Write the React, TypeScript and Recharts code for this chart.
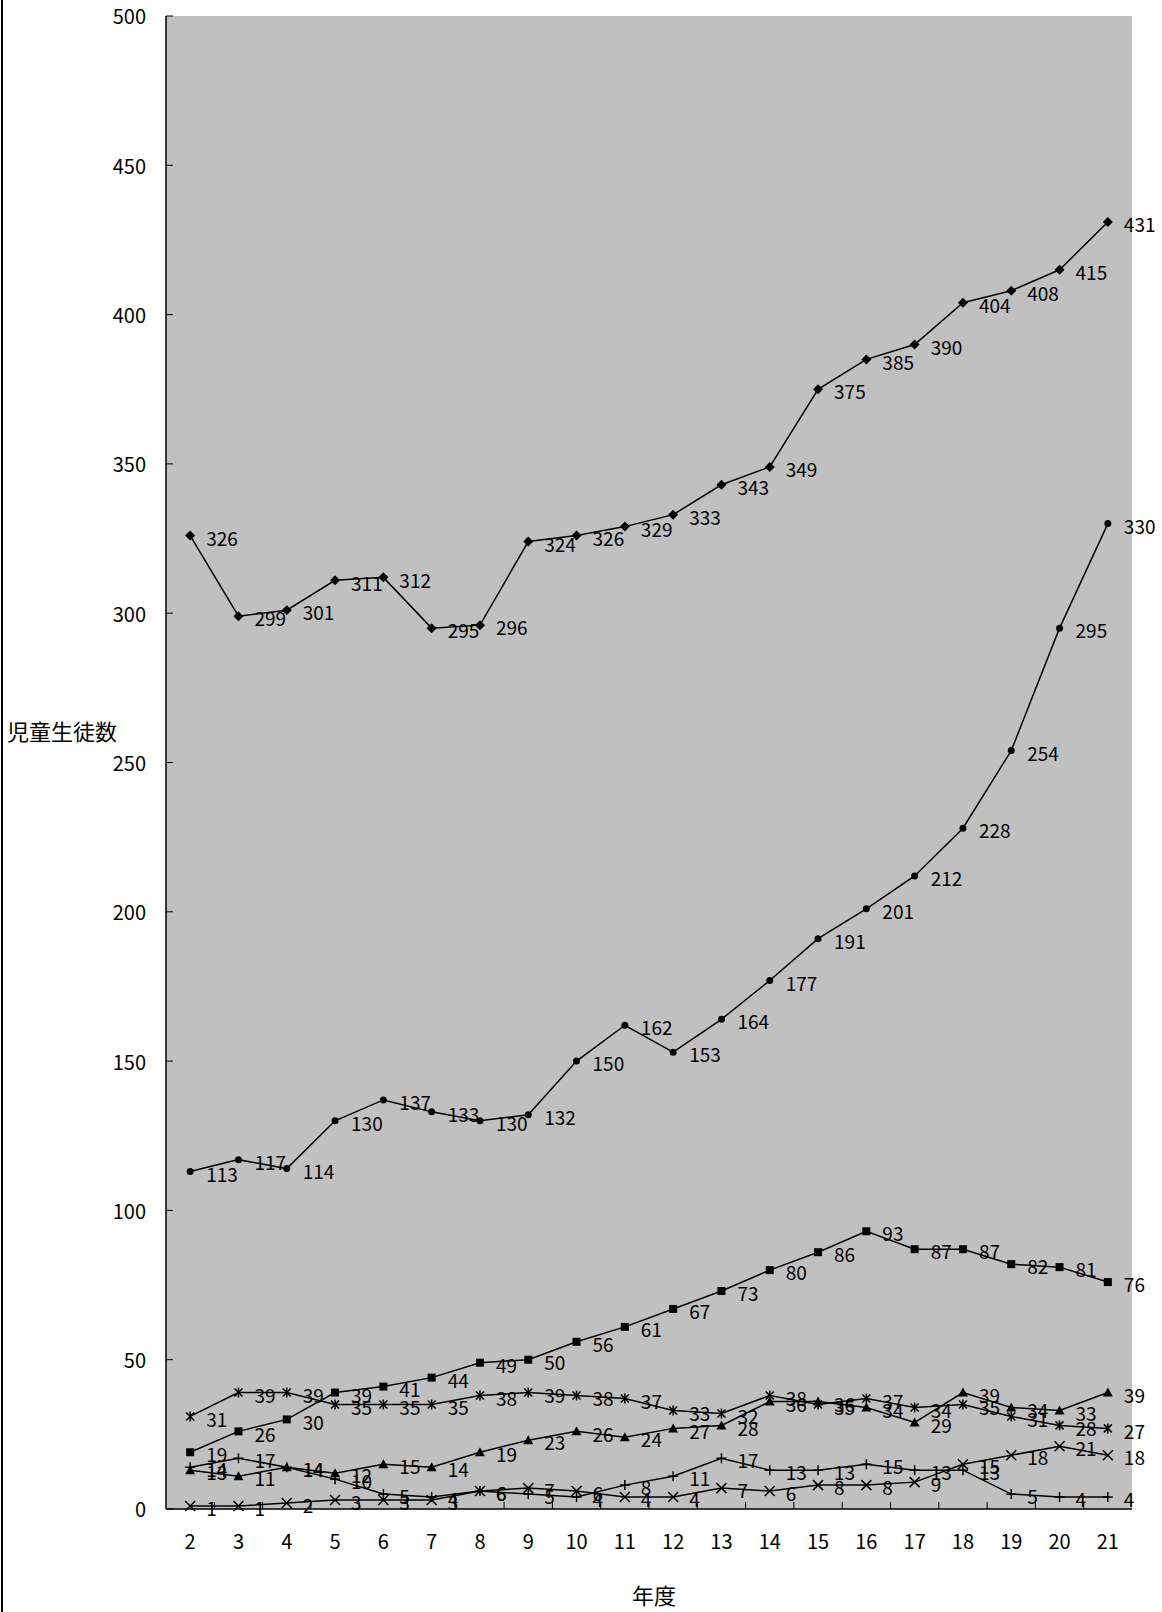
import { LineChart, Line, XAxis, YAxis, CartesianGrid, LabelList, Label } from 'recharts';

// ---- data ----
const years = ['2', '3', '4', '5', '6', '7', '8', '9', '10', '11', '12', '13', '14', '15', '16', '17', '18', '19', '20', '21'];
const diamondVals = [326, 299, 301, 311, 312, 295, 296, 324, 326, 329, 333, 343, 349, 375, 385, 390, 404, 408, 415, 431];
const circleVals = [113, 117, 114, 130, 137, 133, 130, 132, 150, 162, 153, 164, 177, 191, 201, 212, 228, 254, 295, 330];
const squareVals = [19, 26, 30, 39, 41, 44, 49, 50, 56, 61, 67, 73, 80, 86, 93, 87, 87, 82, 81, 76];
const asteriskVals = [31, 39, 39, 35, 35, 35, 38, 39, 38, 37, 33, 32, 38, 35, 37, 34, 35, 31, 28, 27];
const triangleVals = [13, 11, 14, 12, 15, 14, 19, 23, 26, 24, 27, 28, 36, 36, 34, 29, 39, 34, 33, 39];
const plusVals = [14, 17, 14, 10, 5, 4, 6, 5, 4, 8, 11, 17, 13, 13, 15, 13, 13, 5, 4, 4];
const crossVals = [1, 1, 2, 3, 3, 3, 6, 7, 6, 4, 4, 7, 6, 8, 8, 9, 15, 18, 21, 18];
const yTicks = [0, 50, 100, 150, 200, 250, 300, 350, 400, 450, 500];

type Shape = 'diamond' | 'circle' | 'square' | 'triangle' | 'asterisk' | 'plus' | 'cross';

const SERIES: { key: string; shape: Shape; values: number[] }[] = [
  { key: 'cross', shape: 'cross', values: crossVals },
  { key: 'plus', shape: 'plus', values: plusVals },
  { key: 'triangle', shape: 'triangle', values: triangleVals },
  { key: 'asterisk', shape: 'asterisk', values: asteriskVals },
  { key: 'square', shape: 'square', values: squareVals },
  { key: 'circle', shape: 'circle', values: circleVals },
  { key: 'diamond', shape: 'diamond', values: diamondVals },
];

const rows = years.map((year, i) => {
  const r: Record<string, string | number> = { year };
  SERIES.forEach(s => { r[s.key] = s.values[i]; });
  return r;
});

// ---- layout ----
const W = 1162, H = 1612;
const LEFT = 166, RIGHT = 30, TOP = 16, BOTTOM = 103;
const BAND = (W - LEFT - RIGHT) / years.length;
const FONT = '"Noto Sans CJK JP", "Noto Sans", sans-serif';
const INK = '#000';

function Marker({ cx, cy, shape }: { cx: number; cy: number; shape: Shape }) {
  if (cx == null || cy == null) return null;
  const s = 5;
  const ln = { stroke: INK, strokeWidth: 1.5 };
  switch (shape) {
    case 'diamond':
      return <polygon points={`${cx},${cy - s} ${cx + s},${cy} ${cx},${cy + s} ${cx - s},${cy}`} fill={INK} />;
    case 'circle':
      return <circle cx={cx} cy={cy} r={3.5} fill={INK} />;
    case 'square':
      return <rect x={cx - 4} y={cy - 4} width={8} height={8} fill={INK} />;
    case 'triangle':
      return <polygon points={`${cx},${cy - s} ${cx + s},${cy + 4} ${cx - s},${cy + 4}`} fill={INK} />;
    case 'asterisk':
      return (
        <g {...ln}>
          <line x1={cx - 4} y1={cy - 4} x2={cx + 4} y2={cy + 4} />
          <line x1={cx - 4} y1={cy + 4} x2={cx + 4} y2={cy - 4} />
          <line x1={cx} y1={cy - 5} x2={cx} y2={cy + 5} />
        </g>
      );
    case 'plus':
      return (
        <g {...ln}>
          <line x1={cx - s} y1={cy} x2={cx + s} y2={cy} />
          <line x1={cx} y1={cy - s} x2={cx} y2={cy + s} />
        </g>
      );
    default:
      return (
        <g {...ln}>
          <line x1={cx - s} y1={cy - s} x2={cx + s} y2={cy + s} />
          <line x1={cx - s} y1={cy + s} x2={cx + s} y2={cy - s} />
        </g>
      );
  }
}

// Category labels, with tick marks at band boundaries pointing into the plot
function XTick({ x, y, payload, index }: any) {
  return (
    <g>
      <text x={x} y={y + 35} textAnchor="middle" dominantBaseline="middle"
        fontSize={20} fontFamily={FONT} fill={INK}>{payload.value}</text>
      {index < years.length - 1 && (
        <line x1={x + BAND / 2} y1={y} x2={x + BAND / 2} y2={y - 7} stroke={INK} strokeWidth={1} />
      )}
    </g>
  );
}

// Value labels with inward tick marks
function YTick({ x, y, payload }: any) {
  return (
    <g>
      <text x={x - 20} y={y + 3} textAnchor="end" dominantBaseline="middle"
        fontSize={20} fontFamily={FONT} fill={INK}>{payload.value}</text>
      <line x1={x} y1={y} x2={x + 7} y2={y} stroke={INK} strokeWidth={1} />
    </g>
  );
}

function PointLabel(p: any) {
  if (p.x == null || p.y == null) return null;
  return (
    <text x={p.x + 16} y={p.y + 5} dominantBaseline="middle" fontSize={19}
      fontFamily={FONT} fill={INK}>{p.value}</text>
  );
}

export default function App() {
  return (
    <div style={{ position: 'relative', width: W, height: H, background: '#fff' }}>
      <style>{'body{margin:0}'}</style>
      <div style={{ position: 'absolute', left: 1, top: 0, width: 2, height: H, background: INK }} />
      <LineChart width={W} height={H} data={rows}
        margin={{ top: TOP, right: RIGHT, bottom: 0, left: 0 }}>
        <CartesianGrid fill="#c0c0c0" horizontal={false} vertical={false} />
        <XAxis dataKey="year" height={BOTTOM} interval={0} tickLine={false}
          padding={{ left: BAND / 2, right: BAND / 2 }}
          tickSize={0} tickMargin={0} tick={<XTick />} axisLine={{ stroke: INK, strokeWidth: 1.5 }}>
          <Label content={() => (
            <text x={654} y={1598} textAnchor="middle" dominantBaseline="middle"
              fontSize={22} fontFamily={FONT} fill={INK}>年度</text>
          )} />
        </XAxis>
        <XAxis xAxisId="top" orientation="top" dataKey="year" height={0}
          padding={{ left: BAND / 2, right: BAND / 2 }}
          tick={false} tickLine={false} axisLine={{ stroke: '#808080' }} />
        <YAxis width={LEFT} domain={[0, 500]} ticks={yTicks} interval={0}
          tickLine={false} tickSize={0} tickMargin={0} tick={<YTick />}
          axisLine={{ stroke: INK, strokeWidth: 1.5 }}>
          <Label content={() => (
            <text x={7} y={734} dominantBaseline="middle"
              fontSize={22} fontFamily={FONT} fill={INK}>児童生徒数</text>
          )} />
        </YAxis>
        <YAxis yAxisId="right" orientation="right" width={0} domain={[0, 500]}
          tick={false} tickLine={false} axisLine={{ stroke: '#808080' }} />
        {SERIES.map(s => (
          <Line key={s.key} dataKey={s.key} type="linear" stroke={INK} strokeWidth={1.5}
            isAnimationActive={false}
            dot={(p: any) => <Marker key={`${s.key}-${p.index}`} cx={p.cx} cy={p.cy} shape={s.shape} />}
            activeDot={false}>
            <LabelList dataKey={s.key} content={PointLabel} />
          </Line>
        ))}
      </LineChart>
    </div>
  );
}
